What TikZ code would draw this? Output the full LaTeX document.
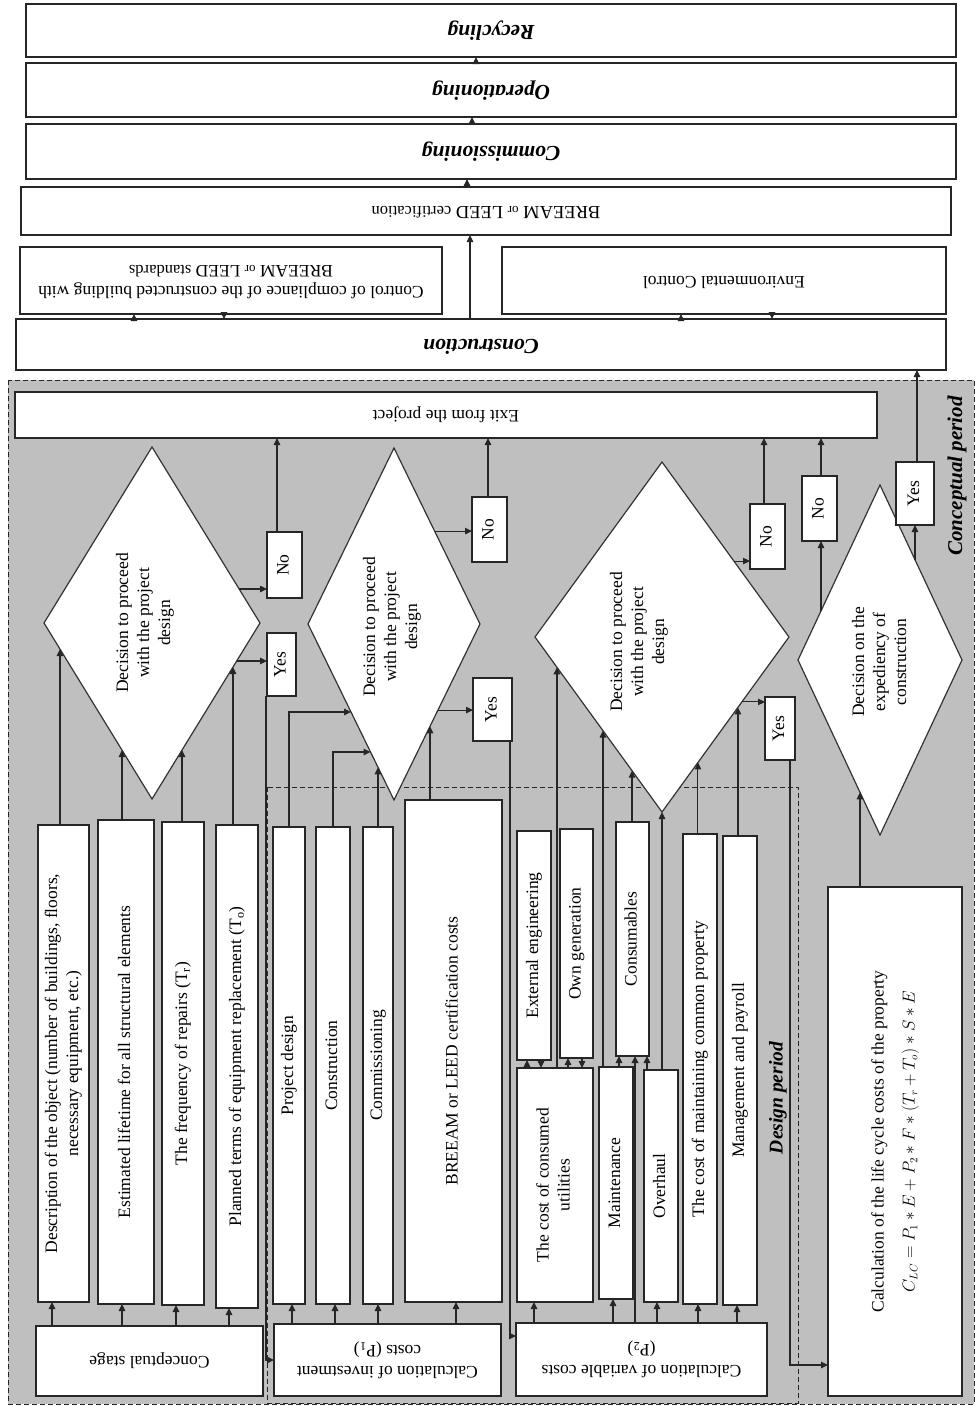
\documentclass[tikz,border=0pt]{standalone}
\usepackage{fontspec}
\setmainfont{Liberation Serif}
\usepackage{graphicx}
\usetikzlibrary{shapes.geometric,arrows.meta,calc}
\newcommand\myvt[1]{\rotatebox{90}{\begin{tabular}{@{}c@{}}#1\end{tabular}}}
\newcommand\myut[1]{\rotatebox{180}{\begin{tabular}{@{}c@{}}#1\end{tabular}}}
\newcommand\fsN{\fontsize{17.5}{21}\selectfont}
\newcommand\fsS{\fontsize{13}{15}\selectfont}
\newcommand\fsM{\fontsize{16.5}{19}\selectfont}
\newcommand\fsB{\fontsize{21.5}{25}\selectfont\bfseries\itshape}
\tikzset{
  box/.style={draw=black!85, line width=1.4pt, fill=white, inner sep=0pt, outer sep=0pt, align=center, font=\fsN},
  bx/.style 2 args={box, minimum width=#1pt, minimum height=#2pt},
  dia/.style={draw=black!80, line width=1.2pt, fill=white, diamond, inner sep=0pt, outer sep=0pt},
  txt/.style={inner sep=0pt, align=center, font=\fsN},
  arr/.style={draw=black!85, line width=1.1pt, -{Triangle[length=7pt,width=6.5pt]}},
  tarr/.style={arr, line width=2.6pt},
  region/.style={draw=black!85, line width=1pt, dash pattern=on 5pt off 3pt},
}
\begin{document}
\begin{tikzpicture}[x=1pt,y=-1pt]
\useasboundingbox (0,0) rectangle (976,1406);
% regions
\draw[region, fill=gray!50] (8,380) rectangle (974,1404);
\draw[region] (267,787) rectangle (798,1403);
\node[font=\fontsize{21}{25}\selectfont\bfseries\itshape, inner sep=0pt] (cpl) at (957,476) {\rotatebox{90}{Conceptual period}};
\node[font=\fontsize{19.5}{23}\selectfont\bfseries\itshape, inner sep=0pt] (dpl) at (778,1098) {\rotatebox{90}{Design period}};

% top stages
\node[bx={930}{53}, font=\fsB] (recyc) at (491,30.5) {\myut{Recycling}};
\node[bx={930}{54}, font=\fsB] (oper) at (491,90) {\myut{Operationing}};
\node[bx={930}{55}, font=\fsB] (commis) at (491,151.5) {\myut{Commissioning}};
\node[bx={930}{48}, font=\fontsize{18.5}{21}\selectfont] (cert) at (486,211) {\myut{BREEAM {\fsS or} LEED {\fsM certification}}};
\node[bx={422}{67}] (control) at (231,280.5) {\myut{Control of compliance of the constructed building with\\BREEAM {\fsS or} LEED {\fsM standards}}};
\node[bx={444}{67}] (env) at (724,280.5) {\myut{Environmental Control}};
\node[bx={930}{51}, font=\fsB] (constr) at (481,344.5) {\myut{Construction}};

% exit
\node[bx={862}{46}] (exit) at (446,415) {\myut{Exit from the project}};

% diamonds
\node[dia, minimum width=216pt, minimum height=352pt] (d1) at (152,623) {};
\node[dia, minimum width=172pt, minimum height=352pt] (d2) at (394,624) {};
\node[dia, minimum width=254pt, minimum height=350pt] (d3) at (662,637) {};
\node[dia, minimum width=164pt, minimum height=350pt] (d4) at (880,660) {};
\node[txt] (d1t) at (145,623) {\myvt{Decision to proceed\\with the project\\design}};
\node[txt] (d2t) at (392,627) {\myvt{Decision to proceed\\with the project\\design}};
\node[txt] (d3t) at (639,642) {\myvt{Decision to proceed\\with the project\\design}};
\node[txt] (d4t) at (881,662) {\myvt{Decision on the\\expediency of\\construction}};

% yes / no
\node[bx={35}{66}] (no1) at (284.5,565) {\myvt{No}};
\node[bx={29}{63}] (yes1) at (281.5,664.5) {\myvt{Yes}};
\node[bx={35}{65}] (no2) at (489.5,529.5) {\myvt{No}};
\node[bx={39}{63}] (yes2) at (492.5,709.5) {\myvt{Yes}};
\node[bx={35}{65}] (no3) at (767.5,536.5) {\myvt{No}};
\node[bx={30}{63}] (yes3) at (780,728.5) {\myvt{Yes}};
\node[bx={35}{65}] (no4) at (819.5,508.5) {\myvt{No}};
\node[bx={38}{63}] (yes4) at (915,493.5) {\myvt{Yes}};

% conceptual stage
\node[bx={227}{70}] (cstage) at (149.5,1361) {\myut{Conceptual stage}};
\node[bx={51}{477}] (desc) at (63.5,1063.5) {\myvt{Description of the object (number of buildings, floors,\\necessary equipment, etc.)}};
\node[bx={56}{484}] (est) at (126,1062) {\myvt{Estimated lifetime for all structural elements}};
\node[bx={42}{483}] (freq) at (183,1063.5) {\myvt{The frequency of repairs (T\textsubscript{r})}};
\node[bx={42}{483}] (plan) at (237,1066.5) {\myvt{Planned terms of equipment replacement (T\textsubscript{o})}};

% investment
\node[bx={227}{72}] (cinv) at (387.5,1360) {\myut{Calculation of investment\\costs (P\textsubscript{1})}};
\node[bx={32}{477}] (proj) at (289,1065.5) {\myvt{Project design}};
\node[bx={34}{477}] (cons2) at (333,1065.5) {\myvt{Construction}};
\node[bx={30}{477}] (comm2) at (378,1065.5) {\myvt{Commissioning}};
\node[bx={97}{502}] (bcost) at (453.5,1051) {\myvt{BREEAM or LEED certification costs}};

% variable
\node[bx={251}{73}] (cvar) at (641.5,1359.5) {\myut{Calculation of variable costs\\(P\textsubscript{2})}};
\node[bx={34}{229}] (ext) at (534,945.5) {\myvt{External engineering}};
\node[bx={33}{229}] (own) at (576.5,943.5) {\myvt{Own generation}};
\node[bx={33}{234}] (cons3) at (632.5,939) {\myvt{Consumables}};
\node[bx={76}{234}] (util) at (555,1185) {\myvt{The cost of consumed\\utilities}};
\node[bx={34}{232}] (maint) at (616,1183) {\myvt{Maintenance}};
\node[bx={34}{232}] (overh) at (661,1186) {\myvt{Overhaul}};
\node[bx={34}{470}] (commp) at (700,1069) {\myvt{The cost of maintaining common property}};
\node[bx={34}{469}] (mgmt) at (740,1070.5) {\myvt{Management and payroll}};

% LCC
\node[bx={134}{509}] (lcc) at (895,1141.5) {\myvt{Calculation of the life cycle costs of the property\\[10pt] {\fontsize{16}{19}\selectfont $C_{LC} = P_1 * E + P_2 * F * (T_r + T_o) * S * E$}}};

% ---- top connectors
\draw[arr] ([xshift=-11pt]constr.north) -- ([xshift=-16pt]cert.south);
\draw[arr] ([xshift=-19pt]cert.north) -- ([xshift=-24pt]commis.south);
\draw[arr] ([xshift=-19pt]commis.north) -- ([xshift=-19pt]oper.south);
\draw[arr] ([xshift=-15pt]oper.north) -- ([xshift=-15pt]recyc.south);
\draw[arr] ([xshift=-347pt]constr.north) -- ([xshift=-97pt]control.south);
\draw[arr] ([xshift=-7pt]control.south) -- ([xshift=-257pt]constr.north);
\draw[arr] ([xshift=200pt]constr.north) -- ([xshift=-43pt]env.south);
\draw[arr] ([xshift=48pt]env.south) -- ([xshift=291pt]constr.north);
\draw[arr] ([xshift=2pt]yes4.north) -- ([xshift=436pt]constr.south);

% ---- no -> exit
\draw[arr] ([xshift=-7.5pt]no1.north) -- ([xshift=-169pt]exit.south);
\draw[arr] ([xshift=-1.5pt]no2.north) -- ([xshift=42pt]exit.south);
\draw[arr] ([xshift=-3.5pt]no3.north) -- ([xshift=318pt]exit.south);
\draw[arr] ([xshift=1.5pt]no4.north) -- ([xshift=375pt]exit.south);

% ---- diamond edge points
\coordinate (d1no) at ($(d1.north)!0.807!(d1.east)$);
\coordinate (d1yes) at ($(d1.east)!0.216!(d1.south)$);
\coordinate (d1a) at ($(d1.west)!0.148!(d1.south)$);
\coordinate (d1b) at ($(d1.west)!0.722!(d1.south)$);
\coordinate (d1c) at ($(d1.south)!0.278!(d1.east)$);
\coordinate (d1d) at ($(d1.south)!0.75!(d1.east)$);
\coordinate (d2no) at ($(d2.north)!0.472!(d2.east)$);
\coordinate (d2yes) at ($(d2.east)!0.489!(d2.south)$);
\coordinate (d2a) at ($(d2.west)!0.5!(d2.south)$);
\coordinate (d2b) at ($(d2.west)!0.727!(d2.south)$);
\coordinate (d2c) at ($(d2.west)!0.814!(d2.south)$);
\coordinate (d2d) at ($(d2.south)!0.419!(d2.east)$);
\coordinate (d3no) at ($(d3.north)!0.566!(d3.east)$);
\coordinate (d3yes) at ($(d3.east)!0.371!(d3.south)$);
\coordinate (d3a) at ($(d3.west)!0.173!(d3.south)$);
\coordinate (d3b) at ($(d3.west)!0.535!(d3.south)$);
\coordinate (d3c) at ($(d3.west)!0.764!(d3.south)$);
\coordinate (d3d) at ($(d3.south)!0.283!(d3.east)$);
\coordinate (d3e) at ($(d3.south)!0.598!(d3.east)$);
\coordinate (d4no) at ($(d4.west)!0.28!(d4.north)$);
\coordinate (d4yes) at ($(d4.north)!0.427!(d4.east)$);
\coordinate (d4a) at ($(d4.west)!0.756!(d4.south)$);

% ---- diamond outputs
\draw[arr] (d1no) -- (d1no -| no1.west);
\draw[arr] (d1yes) -- (d1yes -| yes1.west);
\draw[arr] (d2no) -- (d2no -| no2.west);
\draw[arr] (d2yes) -- (d2yes -| yes2.west);
\draw[arr] (d3no) -- (d3no -| no3.west);
\draw[arr] (d3yes) -- (d3yes -| yes3.west);
\draw[arr] (d4no) -- (d4no |- no4.south);
\draw[arr] (d4yes) -- (d4yes |- yes4.south);

% ---- inputs to diamonds
\draw[arr] (d1a |- desc.north) -- (d1a);
\draw[arr] (d1b |- est.north) -- (d1b);
\draw[arr] (d1c |- freq.north) -- (d1c);
\draw[arr] (d1d |- plan.north) -- (d1d);
\draw[arr] (proj.north) |- (d2a);
\draw[arr] (cons2.north) |- (d2b);
\draw[arr] (d2c |- comm2.north) -- (d2c);
\draw[arr] (d2d |- bcost.north) -- (d2d);
\draw[tarr] (d3a |- util.north) -- (d3a);
\draw[arr] (d3b |- maint.north) -- (d3b);
\draw[arr] (d3c |- cons3.north) -- (d3c);
\draw[arr] (d3.south |- overh.north) -- (d3.south);
\draw[arr] (d3d |- commp.north) -- (d3d);
\draw[arr] (d3e |- mgmt.north) -- (d3e);
\draw[arr] (d4a |- lcc.north) -- (d4a);

% ---- feeders
\draw[arr] ([xshift=-97.5pt]cstage.north) -- ([xshift=-11.5pt]desc.south);
\draw[arr] ([xshift=-27.5pt]cstage.north) -- ([xshift=-4pt]est.south);
\draw[arr] ([xshift=26.5pt]cstage.north) -- ([xshift=-7pt]freq.south);
\draw[arr] ([xshift=79.5pt]cstage.north) -- ([xshift=-8pt]plan.south);
\draw[arr] ([xshift=-95.5pt]cinv.north) -- ([xshift=3pt]proj.south);
\draw[arr] ([xshift=-52.5pt]cinv.north) -- ([xshift=2pt]cons2.south);
\draw[arr] ([xshift=-9.5pt]cinv.north) -- (comm2.south);
\draw[arr] ([xshift=68.5pt]cinv.north) -- ([xshift=2.5pt]bcost.south);
\draw[arr] ([xshift=-107.5pt]cvar.north) -- ([xshift=-21pt]util.south);
\draw[arr] ([xshift=-28.5pt]cvar.north) -- ([xshift=-3pt]maint.south);
\draw[tarr] ([xshift=-6.5pt]cvar.north) -- ([xshift=2.5pt]cons3.south);
\draw[arr] ([xshift=15.5pt]cvar.north) -- ([xshift=-4pt]overh.south);
\draw[arr] ([xshift=56.5pt]cvar.north) -- ([xshift=-2pt]commp.south);
\draw[arr] ([xshift=95.5pt]cvar.north) -- ([xshift=-3pt]mgmt.south);
\draw[arr] ([xshift=-28pt]util.north) -- ([xshift=-7pt]ext.south);
\draw[arr] ([xshift=7pt]ext.south) -- ([xshift=-14pt]util.north);
\draw[arr] ([xshift=13pt]util.north) -- ([xshift=-8.5pt]own.south);
\draw[arr] ([xshift=5.5pt]own.south) -- ([xshift=27pt]util.north);
\draw[arr] ([xshift=3pt]maint.north) -- ([xshift=-13.5pt]cons3.south);
\draw[arr] ([xshift=-14pt]overh.north) -- ([xshift=14.5pt]cons3.south);

% ---- yes lines
\draw[tarr] ([xshift=-15.5pt]yes1.south) |- (cinv.west);
\draw[arr] ([xshift=17.5pt]yes2.south) |- ([yshift=23.5pt]cvar.west);
\draw[arr] ([xshift=10pt]yes3.south) |- ([yshift=-223.5pt]lcc.west);
\end{tikzpicture}
\end{document}
